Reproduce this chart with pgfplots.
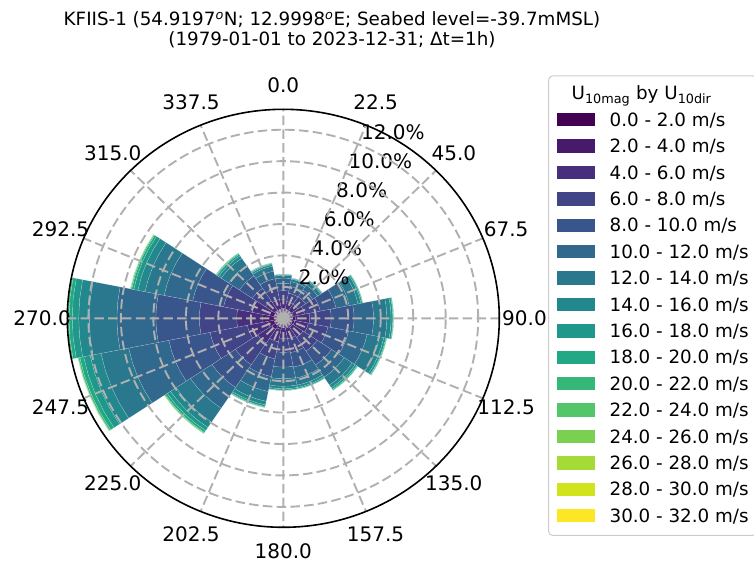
\documentclass[border=0pt]{standalone}
\usepackage{fontspec}
\setmainfont{DejaVu Sans}
\usepackage{pgfplots}
\pgfplotsset{compat=1.18}
\usepackage{pgfplotstable}
\usepgfplotslibrary{polar}

% viridis, 16 speed classes
\definecolor{v0}{HTML}{440154}
\definecolor{v1}{HTML}{481A6C}
\definecolor{v2}{HTML}{472F7D}
\definecolor{v3}{HTML}{414487}
\definecolor{v4}{HTML}{39568C}
\definecolor{v5}{HTML}{31688E}
\definecolor{v6}{HTML}{2A788E}
\definecolor{v7}{HTML}{23888E}
\definecolor{v8}{HTML}{1F988B}
\definecolor{v9}{HTML}{22A884}
\definecolor{v10}{HTML}{35B779}
\definecolor{v11}{HTML}{54C568}
\definecolor{v12}{HTML}{7AD151}
\definecolor{v13}{HTML}{A5DB36}
\definecolor{v14}{HTML}{D2E21B}
\definecolor{v15}{HTML}{FDE725}
\definecolor{gridgray}{HTML}{B0B0B0}
\definecolor{legframe}{HTML}{CCCCCC}

\newcommand\ticksize{\fontsize{20bp}{24bp}\selectfont}
\newcommand\textsize{\fontsize{18.3bp}{22bp}\selectfont}

% frequency (%) of each speed class (s0 = 0-2 m/s, s1 = 2-4 m/s, ...) per direction sector
\pgfplotstableread{
dir    s0   s1   s2   s3   s4   s5   s6   s7   s8   s9   s10  s11  s12
0.0    0.20 0.42 0.56 0.58 0.47 0.33 0.17 0.05 0.02 0.01 0    0    0
22.5   0.18 0.39 0.52 0.54 0.44 0.31 0.16 0.05 0.02 0.01 0    0    0
45.0   0.17 0.38 0.52 0.58 0.52 0.38 0.23 0.07 0.03 0.02 0    0    0
67.5   0.18 0.45 0.70 0.99 0.99 0.83 0.55 0.19 0.08 0.03 0.01 0    0
90.0   0.20 0.54 0.88 1.33 1.41 1.20 0.82 0.26 0.11 0.04 0.01 0    0
112.5  0.20 0.52 0.85 1.23 1.30 1.16 0.78 0.27 0.13 0.05 0.02 0    0
135.0  0.19 0.50 0.77 1.05 1.06 0.94 0.60 0.21 0.12 0.06 0.02 0    0
157.5  0.18 0.46 0.69 0.90 0.94 0.71 0.46 0.15 0.08 0.03 0    0    0
180.0  0.17 0.44 0.67 0.89 0.94 0.74 0.48 0.16 0.08 0.03 0    0    0
202.5  0.20 0.52 0.81 1.10 1.15 0.97 0.64 0.23 0.11 0.05 0.02 0    0
225.0  0.22 0.62 1.06 1.65 1.74 1.60 1.06 0.41 0.24 0.14 0.06 0.02 0.01
247.5  0.26 0.71 1.29 2.34 2.59 2.52 1.74 0.68 0.41 0.24 0.09 0.03 0.01
270.0  0.32 0.95 1.60 2.30 2.68 2.40 1.70 0.65 0.40 0.20 0.08 0.02 0
292.5  0.24 0.62 1.10 1.79 1.94 1.79 1.20 0.45 0.26 0.13 0.06 0.02 0.01
315.0  0.18 0.45 0.70 0.96 0.96 0.80 0.55 0.19 0.11 0.06 0.03 0.01 0
337.5  0.18 0.43 0.61 0.71 0.64 0.49 0.32 0.11 0.06 0.03 0.02 0    0
}\rosetable

\begin{document}
\begin{tikzpicture}
\path[use as bounding box] (0,0) rectangle (754bp,563bp);

\node[anchor=base, font=\textsize, inner sep=0pt] at (332bp,537bp)
  {KFIIS-1 (54.9197\textsuperscript{\textit{o}}N; 12.9998\textsuperscript{\textit{o}}E; Seabed level=-39.7mMSL)};
\node[anchor=base, font=\textsize, inner sep=0pt] at (332bp,517bp)
  {(1979-01-01 to 2023-12-31; Δt=1h)};

\begin{polaraxis}[
  at={(283.3bp,244.7bp)}, anchor=center,
  scale only axis, width=432bp, height=418bp,
  scale mode=stretch to fill,
  xmin=0, xmax=360, ymin=0, ymax=13.3,
  xtick={0,22.5,...,337.5}, ytick={2,4,...,12},
  xticklabels={}, yticklabels={},
  xmajorgrids, ymajorgrids,
  major grid style={gridgray, line width=1.9bp, dash pattern=on 9.5bp off 4.3bp},
  major tick length=0pt,
  axis line style={black, line width=1.6bp},
  y axis line style={draw=none},
  axis on top, clip=false,
  legend cell align=left,
  legend image code/.code={\fill[#1, draw=none, sharp corners] (0bp,0bp) rectangle (38bp,13.3bp);},
  legend style={
    at={(1.113,1.081)}, anchor=north west,
    draw=legframe, line width=1bp, rounded corners=4bp, fill=white,
    font=\textsize,
    inner xsep=8bp, inner ysep=9bp,
    row sep=7.4bp, column sep=15bp,
    nodes={inner sep=0bp, text height=15bp, text depth=4bp, anchor=base west},
  },
]

% stacked wedges: one sector per direction, one ring segment per speed class
\pgfplotstablegetrowsof{\rosetable}
\pgfmathtruncatemacro\lastrow{\pgfplotsretval-1}
\pgfplotsforeachungrouped \irow in {0,...,\lastrow}{%
  \pgfplotstablegetelem{\irow}{dir}\of\rosetable
  \pgfmathsetmacro\ang{90-\pgfplotsretval}%
  \pgfmathsetmacro\aA{\ang-11.25}%
  \pgfmathsetmacro\aB{\ang-5.625}%
  \pgfmathsetmacro\aC{\ang+5.625}%
  \pgfmathsetmacro\aD{\ang+11.25}%
  \def\rin{0}%
  \pgfplotsforeachungrouped \bin in {0,...,12}{%
    \pgfplotstablegetelem{\irow}{s\bin}\of\rosetable
    \ifdim\pgfplotsretval pt>0pt
      \pgfmathsetmacro\rout{\rin+\pgfplotsretval}%
      \edef\wedgecmd{\noexpand\addplot[forget plot, fill=v\bin, draw=white, draw opacity=0.35, line width=0.3bp]
        coordinates {(\aA,\rin) (\aA,\rout) (\aB,\rout) (\ang,\rout) (\aC,\rout) (\aD,\rout)
                     (\aD,\rin) (\aC,\rin) (\ang,\rin) (\aB,\rin)} -- cycle;}%
      \wedgecmd
      \let\rin\rout
    \fi
  }%
}

% direction labels (compass bearing, clockwise from north)
\node[font=\ticksize] at (axis cs:90,14.85) {0.0};
\node[font=\ticksize] at (axis cs:67.5,14.85) {22.5};
\node[font=\ticksize] at (axis cs:45,14.85) {45.0};
\node[font=\ticksize] at (axis cs:22.5,14.85) {67.5};
\node[font=\ticksize] at (axis cs:0,14.85) {90.0};
\node[font=\ticksize] at (axis cs:-22.5,14.85) {112.5};
\node[font=\ticksize] at (axis cs:-45,14.85) {135.0};
\node[font=\ticksize] at (axis cs:-67.5,14.85) {157.5};
\node[font=\ticksize] at (axis cs:-90,14.85) {180.0};
\node[font=\ticksize] at (axis cs:-112.5,14.85) {202.5};
\node[font=\ticksize] at (axis cs:-135,14.85) {225.0};
\node[font=\ticksize] at (axis cs:-157.5,14.85) {247.5};
\node[font=\ticksize] at (axis cs:180,14.85) {270.0};
\node[font=\ticksize] at (axis cs:157.5,14.85) {292.5};
\node[font=\ticksize] at (axis cs:135,14.85) {315.0};
\node[font=\ticksize] at (axis cs:112.5,14.85) {337.5};

% radial labels
\pgfplotsinvokeforeach{2,4,6,8,10,12}{%
  \node[font=\ticksize, anchor=base west, inner sep=0pt, xshift=3bp, yshift=4.5bp]
    at (axis cs:67.5,#1) {#1.0\%};
}

\addlegendimage{empty legend}
\addlegendentry{\hspace*{-38bp}U\textsubscript{10mag} by U\textsubscript{10dir}}
\addlegendimage{fill=v0}\addlegendentry{0.0 - 2.0 m/s}
\addlegendimage{fill=v1}\addlegendentry{2.0 - 4.0 m/s}
\addlegendimage{fill=v2}\addlegendentry{4.0 - 6.0 m/s}
\addlegendimage{fill=v3}\addlegendentry{6.0 - 8.0 m/s}
\addlegendimage{fill=v4}\addlegendentry{8.0 - 10.0 m/s}
\addlegendimage{fill=v5}\addlegendentry{10.0 - 12.0 m/s}
\addlegendimage{fill=v6}\addlegendentry{12.0 - 14.0 m/s}
\addlegendimage{fill=v7}\addlegendentry{14.0 - 16.0 m/s}
\addlegendimage{fill=v8}\addlegendentry{16.0 - 18.0 m/s}
\addlegendimage{fill=v9}\addlegendentry{18.0 - 20.0 m/s}
\addlegendimage{fill=v10}\addlegendentry{20.0 - 22.0 m/s}
\addlegendimage{fill=v11}\addlegendentry{22.0 - 24.0 m/s}
\addlegendimage{fill=v12}\addlegendentry{24.0 - 26.0 m/s}
\addlegendimage{fill=v13}\addlegendentry{26.0 - 28.0 m/s}
\addlegendimage{fill=v14}\addlegendentry{28.0 - 30.0 m/s}
\addlegendimage{fill=v15}\addlegendentry{30.0 - 32.0 m/s}
\end{polaraxis}
\end{tikzpicture}
\end{document}
